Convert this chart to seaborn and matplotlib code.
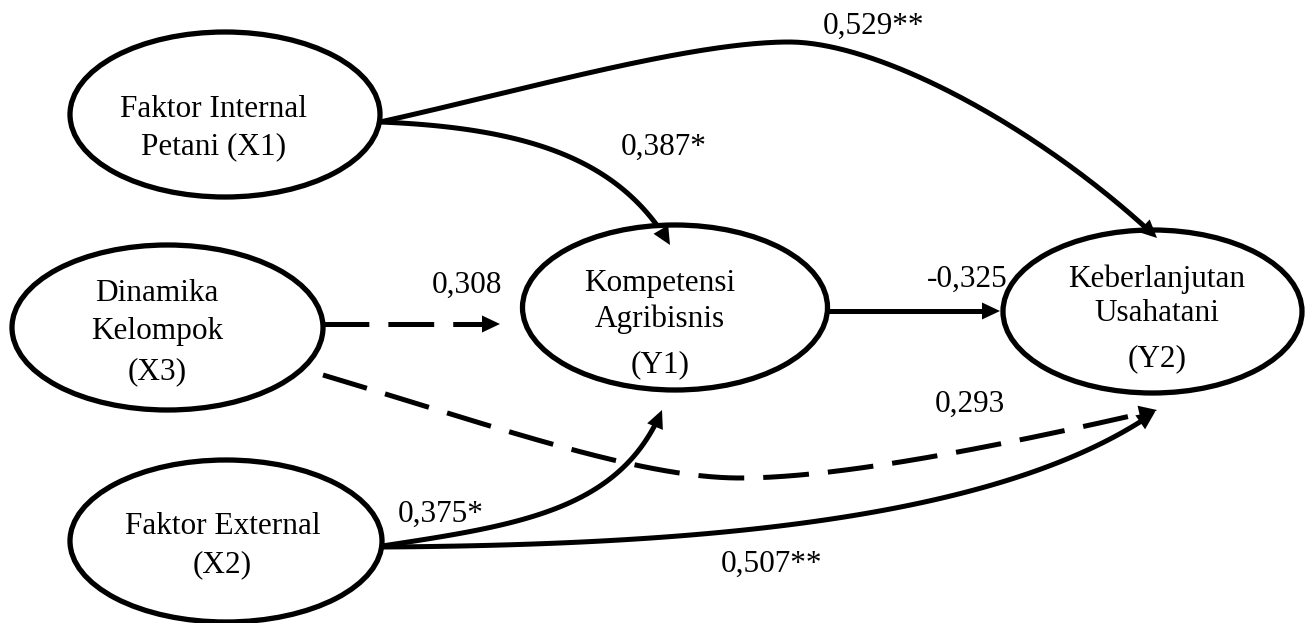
import numpy as np
import pandas as pd
import matplotlib
matplotlib.use("Agg")
import matplotlib.pyplot as plt
from matplotlib.patches import Ellipse
import seaborn as sns

# ---------------- data ----------------
node_ids = ["X1", "X3", "X2", "Y1", "Y2"]
node_labels = ["Faktor Internal\nPetani (X1)",
               "Dinamika\nKelompok\n(X3)",
               "Faktor External\n(X2)",
               "Kompetensi\nAgribisnis\n(Y1)",
               "Keberlanjutan\nUsahatani\n(Y2)"]

path_from = ["X1", "X1", "X3", "X3", "X2", "X2", "Y1"]
path_to = ["Y2", "Y1", "Y1", "Y2", "Y1", "Y2", "Y2"]
path_coef = ["0,529", "0,387", "0,308", "0,293", "0,375", "0,507", "-0,325"]
path_sig = ["**", "*", "", "", "*", "**", ""]
path_dashed = [False, False, True, True, False, False, False]

# ---------------- layout (pixel space) ----------------
node_box = {  # center x, center y, width, height
    "X1": (225, 114.5, 310, 165),
    "X3": (167.5, 327.5, 311, 165),
    "X2": (226, 541, 312, 162),
    "Y1": (675, 307.5, 305, 165),
    "Y2": (1152.5, 311.5, 299, 163),
}
node_text_x = {"X1": 214, "X3": 157, "X2": 222.5, "Y1": 660, "Y2": 1157}
node_text_baselines = {
    "X1": [117, 154],
    "X3": [301, 339, 379],
    "X2": [534, 572],
    "Y1": [291, 327, 372],
    "Y2": [287, 321, 366],
}
# bezier control points per path (list of cubic segments)
path_geom = [
    [[(380, 122), (520, 91), (690, 42), (789, 42)],
     [(789, 42), (880, 42), (1040, 128), (1157, 238)]],
    [[(380, 122), (530, 128), (620, 160), (670, 245)]],
    [[(323, 324), (380, 324), (440, 324), (500, 324)]],
    [[(323, 375), (500, 428), (640, 478), (740, 478)],
     [(740, 478), (840, 478), (1000, 446), (1157, 410)]],
    [[(382, 546), (520, 525), (620, 510), (662, 410)]],
    [[(382, 547), (700, 545), (1000, 520), (1155, 412)]],
    [[(822, 311), (880, 311), (940, 311), (1000, 311)]],
]
label_base = [(873, 34), (664, 155), (467, 293), (970, 412),
              (441, 522), (772, 572), (967, 287)]

# ---------------- style ----------------
sns.set_theme(style="white")
plt.rcParams["font.family"] = ["Liberation Serif", "DejaVu Serif"]
plt.rcParams["lines.scale_dashes"] = False
FS = 22.5
LW_LINE = 3.6
LW_ELL = 3.8
HEAD_L = 18.0
HEAD_W = 8.5

W, H = 1306, 623
fig = plt.figure(figsize=(W / 100, H / 100), dpi=100)
ax = fig.add_axes([0, 0, 1, 1])
ax.set_xlim(0, W)
ax.set_ylim(H, 0)
ax.axis("off")


def bezier(seg, n=120):
    p = np.array(seg, dtype=float)
    t = np.linspace(0, 1, n)[:, None]
    return ((1 - t) ** 3 * p[0] + 3 * (1 - t) ** 2 * t * p[1]
            + 3 * (1 - t) * t ** 2 * p[2] + t ** 3 * p[3])


for i in range(len(path_from)):
    segs = path_geom[i]
    pts = np.vstack([bezier(s) for s in segs])
    tip = np.array(segs[-1][3], float)
    d = tip - np.array(segs[-1][2], float)
    d /= np.hypot(*d)
    dist = np.hypot(*(pts - tip).T)
    keep = dist > HEAD_L * 0.7
    line = pts[keep]
    df = pd.DataFrame({"x": line[:, 0], "y": line[:, 1]})
    ls = (0, (33, 13.7)) if path_dashed[i] else "-"
    sns.lineplot(data=df, x="x", y="y", sort=False, estimator=None, ax=ax,
                 color="black", lw=LW_LINE, linestyle=ls,
                 solid_capstyle="butt", dash_capstyle="butt", zorder=2)
    nrm = np.array([-d[1], d[0]])
    base = tip - d * HEAD_L
    tri = np.array([tip, base + nrm * HEAD_W, base - nrm * HEAD_W])
    ax.fill(tri[:, 0], tri[:, 1], color="black", lw=0, zorder=4)
    lx, ly = label_base[i]
    ax.text(lx, ly, path_coef[i] + path_sig[i], fontsize=FS,
            ha="center", va="baseline", color="black", zorder=5)

for nid, lab in zip(node_ids, node_labels):
    cx, cy, w, h = node_box[nid]
    ax.add_patch(Ellipse((cx, cy), w, h, facecolor="white",
                         edgecolor="black", lw=LW_ELL, zorder=3))
    for txt, by in zip(lab.split("\n"), node_text_baselines[nid]):
        ax.text(node_text_x[nid], by, txt, fontsize=FS, ha="center",
                va="baseline", color="black", zorder=5)

ax.set_xlabel("")
ax.set_ylabel("")
fig.savefig("out.png", dpi=100, facecolor="white")
